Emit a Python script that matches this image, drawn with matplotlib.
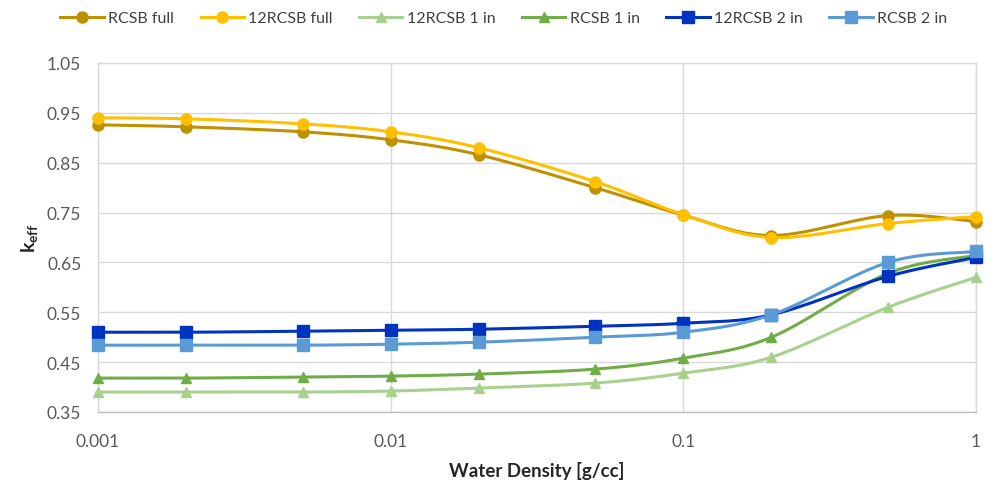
import numpy as np
import matplotlib
matplotlib.use("Agg")
import matplotlib.pyplot as plt

plt.rcParams["font.family"] = ["Lato", "DejaVu Sans"]
plt.rcParams["mathtext.fontset"] = "custom"
plt.rcParams["mathtext.bf"] = "Lato:bold"
plt.rcParams["mathtext.rm"] = "Lato"

# ---------------------------------------------------------------------------
# Data
# ---------------------------------------------------------------------------
density = [0.001, 0.002, 0.005, 0.01, 0.02, 0.05, 0.1, 0.2, 0.5, 1.0]

rcsb_full   = [0.926, 0.922, 0.912, 0.896, 0.866, 0.800, 0.745, 0.704, 0.744, 0.732]
rcsb12_full = [0.940, 0.938, 0.928, 0.912, 0.880, 0.812, 0.746, 0.700, 0.728, 0.742]
rcsb12_1in  = [0.390, 0.390, 0.390, 0.392, 0.398, 0.408, 0.428, 0.460, 0.560, 0.620]
rcsb_1in    = [0.418, 0.418, 0.420, 0.422, 0.426, 0.436, 0.458, 0.500, 0.628, 0.664]
rcsb12_2in  = [0.510, 0.510, 0.512, 0.514, 0.516, 0.522, 0.528, 0.545, 0.622, 0.660]
rcsb_2in    = [0.484, 0.484, 0.484, 0.486, 0.490, 0.500, 0.510, 0.545, 0.650, 0.672]

labels = ["RCSB full", "12RCSB full", "12RCSB 1 in", "RCSB 1 in", "12RCSB 2 in", "RCSB 2 in"]
series = [rcsb_full, rcsb12_full, rcsb12_1in, rcsb_1in, rcsb12_2in, rcsb_2in]
colors = ["#BF9000", "#FFC000", "#A9D18E", "#70AD47", "#0033BF", "#5B9BD5"]
markers = ["o", "o", "^", "^", "s", "s"]

y_ticks = [0.35, 0.45, 0.55, 0.65, 0.75, 0.85, 0.95, 1.05]
x_ticks = [0.001, 0.01, 0.1, 1]
x_ticklabels = ["0.001", "0.01", "0.1", "1"]


def smooth(x, y, n=30):
    """Excel-style smoothed line: cubic Bezier through points (log-x space)."""
    u = np.log10(np.asarray(x, float))
    v = np.asarray(y, float)
    P = np.column_stack([u, v])
    m = len(P)
    out = []
    t = np.linspace(0, 1, n)[:, None]
    for i in range(m - 1):
        p0 = P[i]
        p3 = P[i + 1]
        prev = P[i - 1] if i > 0 else P[i]
        nxt = P[i + 2] if i + 2 < m else P[i + 1]
        c1 = p0 + (p3 - prev) / 6.0
        c2 = p3 - (nxt - p0) / 6.0
        seg = ((1 - t) ** 3) * p0 + 3 * ((1 - t) ** 2) * t * c1 + 3 * (1 - t) * t ** 2 * c2 + t ** 3 * p3
        out.append(seg if i == 0 else seg[1:])
    out = np.vstack(out)
    return 10 ** out[:, 0], out[:, 1]


# ---------------------------------------------------------------------------
# Figure
# ---------------------------------------------------------------------------
fig = plt.figure(figsize=(9.93, 4.85), dpi=100)
ax = fig.add_axes([98 / 993, 1 - 413 / 485, (976 - 98) / 993, (413 - 64) / 485])

handles = []
for ys, lab, c, mk in zip(series, labels, colors, markers):
    sx, sy = smooth(density, ys)
    ax.plot(sx, sy, color=c, lw=2.2, solid_capstyle="round", zorder=3)
    ms = 8 if mk != "^" else 7.5
    ax.plot(density, ys, ls="none", marker=mk, ms=ms,
            color=c, mec=c, zorder=4, clip_on=False)
    h, = ax.plot([], [], color=c, lw=2.2, marker=mk, ms=ms, mec=c)
    handles.append(h)

ax.set_xscale("log")
ax.set_xlim(0.001, 1)
ax.set_ylim(0.35, 1.05)
ax.set_xticks(x_ticks)
ax.set_xticklabels(x_ticklabels)
ax.xaxis.set_minor_locator(matplotlib.ticker.NullLocator())
ax.set_yticks(y_ticks)
ax.set_yticklabels([f"{v:.2f}" for v in y_ticks])

ax.grid(True, color="#D9D9D9", lw=1.0, zorder=0)
ax.set_axisbelow(True)
for s in ax.spines.values():
    s.set_color("#D9D9D9")
    s.set_linewidth(1.0)
ax.spines["bottom"].set_color("#BFBFBF")
ax.tick_params(length=0, labelsize=12.5, colors="#595959")
ax.tick_params(axis="x", pad=15)
ax.tick_params(axis="y", pad=12)

ax.set_xlabel("Water Density [g/cc]", fontsize=13.5, fontweight="bold", color="#262626", labelpad=9)
ax.set_ylabel(r"$\mathbf{k_{eff}}$", fontsize=14, color="#262626", labelpad=5)

fig.legend(handles, labels, loc="center left", bbox_to_anchor=(54 / 993, 1 - 19 / 485),
           ncol=6, frameon=False, fontsize=11.5, handlelength=2.7, handletextpad=0.3,
           columnspacing=1.65, labelcolor="#404040", borderaxespad=0)

fig.savefig("out.png", dpi=100)
